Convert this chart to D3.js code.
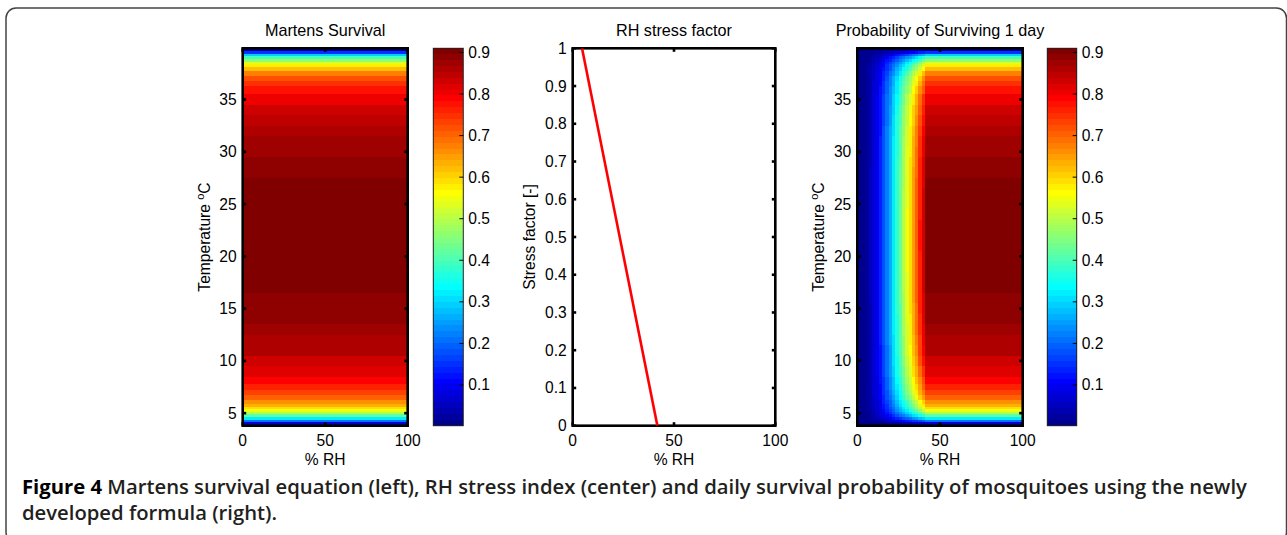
<!DOCTYPE html>
<html><head><meta charset="utf-8">
<script src="https://cdn.jsdelivr.net/npm/d3@7"></script>
<style>html,body{margin:0;padding:0;background:#fff;} svg{display:block}</style>
</head><body>
<svg id="chart" width="1287" height="535"></svg>
<script>
// ---------------- DATA ----------------
const temperatures = [3.8, 4.0, 4.25, 4.5, 4.75, 5.0, 5.25, 5.5, 5.75, 6, 6.5, 7, 7.5, 8, 9, 10, 11, 12, 13, 14, 15, 16, 17, 18, 19, 20, 21, 22, 23, 24, 25, 26, 27, 28, 29, 30, 31, 32, 33, 34, 35, 36, 36.5, 37, 37.5, 38, 38.25, 38.5, 38.75, 39, 39.25, 39.5, 39.75, 39.9];
const martensSurvival = [0.001, 0.062, 0.202, 0.324, 0.418, 0.490, 0.546, 0.590, 0.627, 0.657, 0.704, 0.739, 0.765, 0.786, 0.817, 0.839, 0.855, 0.867, 0.876, 0.883, 0.889, 0.894, 0.897, 0.900, 0.902, 0.903, 0.904, 0.904, 0.904, 0.903, 0.901, 0.899, 0.896, 0.892, 0.887, 0.881, 0.873, 0.863, 0.850, 0.833, 0.808, 0.773, 0.748, 0.717, 0.674, 0.615, 0.576, 0.528, 0.468, 0.389, 0.287, 0.156, 0.025, 0.0001];
const rhSamples = [0, 2, 4, 6, 8, 10, 12, 14, 16, 18, 20, 22, 24, 26, 28, 30, 32, 34, 36, 38, 40, 42, 100];
const rhSurvivalFactor = [0, 0.005, 0.015, 0.03, 0.05, 0.08, 0.11, 0.15, 0.2, 0.25, 0.3, 0.36, 0.42, 0.48, 0.54, 0.6, 0.66, 0.72, 0.78, 0.85, 0.92, 1, 1];
const stressRH = [4.6, 41.8];
const stressFactor = [1, 0];
const rhTicks = [0, 50, 100];
const temperatureTicks = [5, 10, 15, 20, 25, 30, 35];
const stressTicks = [0, 0.1, 0.2, 0.3, 0.4, 0.5, 0.6, 0.7, 0.8, 0.9, 1];
const colorTicks = [0.1, 0.2, 0.3, 0.4, 0.5, 0.6, 0.7, 0.8, 0.9];
const colorLimits = [0.002, 0.91];
const rhDomain = [0, 100];
const temperatureDomain = [3.8, 39.9];
const stressDomain = [0, 1];
const panelTitles = ["Martens Survival", "RH stress factor", "Probability of Surviving 1 day"];
const xLabel = "% RH";
const stressLabel = "Stress factor [-]";
const captionBold = "Figure 4";
const captionLine1 = " Martens survival equation (left), RH stress index (center) and daily survival probability of mosquitoes using the newly";
const captionLine2 = "developed formula (right).";

// ---------------- LAYOUT ----------------
const TOP = 48.3, BOTTOM = 425.7;
const P1 = [242.7, 407.7], CB1 = [433.3, 463.3];
const P2 = [572.7, 775.3];
const P3 = [857.3, 1022.7], CB2 = [1047.3, 1076.7];
const FONT = "'Liberation Sans', Arial, Helvetica, sans-serif";
const FS = 15.6, TITLE_FS = 16.2;
const TICKLEN = 3.5, AXW = 2.6;

const svg = d3.select("#chart");

// jet colormap (MATLAB jet(64))
function jetColors(m) {
  const n = Math.ceil(m / 4), u = [];
  for (let k = 1; k <= n; k++) u.push(k / n);
  for (let k = 1; k <= n - 1; k++) u.push(1);
  for (let k = n; k >= 1; k--) u.push(k / n);
  const gOff = Math.ceil(n / 2) - (m % 4 === 1 ? 1 : 0);
  const J = Array.from({length: m}, () => [0, 0, 0]);
  u.forEach((val, k) => {
    const gi = gOff + k, ri = gi + n, bi = gi - n;
    if (gi >= 0 && gi < m) J[gi][1] = val;
    if (ri >= 0 && ri < m) J[ri][0] = val;
    if (bi >= 0 && bi < m) J[bi][2] = val;
  });
  return J.map(c => d3.rgb(c[0] * 255, c[1] * 255, c[2] * 255).formatHex());
}
const jet = jetColors(64);
const color = d3.scaleQuantize().domain(colorLimits).range(jet);

function cellEdges(samples, domain) {
  return samples.map((s, i) => [
    i === 0 ? domain[0] : (samples[i - 1] + s) / 2,
    i === samples.length - 1 ? domain[1] : (s + samples[i + 1]) / 2
  ]);
}
const tEdges = cellEdges(temperatures, temperatureDomain);
const rhEdges = cellEdges(rhSamples, rhDomain);

const defs = svg.append("defs");
function clipFor(id, xr) {
  defs.append("clipPath").attr("id", id).append("rect")
    .attr("x", xr[0]).attr("y", TOP).attr("width", xr[1] - xr[0]).attr("height", BOTTOM - TOP);
  return "url(#" + id + ")";
}

function fmt(v) { return String(+v.toFixed(2)); }

function drawAxes(x, y, xTicks, yTicks, xr) {
  const g = svg.append("g");
  xTicks.forEach(t => {
    const px = x(t);
    g.append("line").attr("x1", px).attr("x2", px).attr("y1", BOTTOM).attr("y2", BOTTOM - TICKLEN);
    g.append("line").attr("x1", px).attr("x2", px).attr("y1", TOP).attr("y2", TOP + TICKLEN);
    g.append("text").attr("x", px).attr("y", BOTTOM + 20).attr("text-anchor", "middle").text(fmt(t));
  });
  yTicks.forEach(t => {
    const py = y(t);
    g.append("line").attr("x1", xr[0]).attr("x2", xr[0] + TICKLEN).attr("y1", py).attr("y2", py);
    g.append("line").attr("x1", xr[1]).attr("x2", xr[1] - TICKLEN).attr("y1", py).attr("y2", py);
    g.append("text").attr("x", xr[0] - 6).attr("y", py + 5.5).attr("text-anchor", "end").text(fmt(t));
  });
  g.selectAll("line").attr("stroke", "#000").attr("stroke-width", AXW);
  g.append("rect").attr("x", xr[0]).attr("y", TOP).attr("width", xr[1] - xr[0]).attr("height", BOTTOM - TOP)
    .attr("fill", "none").attr("stroke", "#000").attr("stroke-width", AXW);
  g.selectAll("text").attr("font-family", FONT).attr("font-size", FS).attr("fill", "#000");
  g.append("text").attr("x", (xr[0] + xr[1]) / 2).attr("y", BOTTOM + 39).attr("text-anchor", "middle")
    .attr("font-family", FONT).attr("font-size", FS).text(xLabel);
  return g;
}

function title(text, xr) {
  svg.append("text").attr("x", (xr[0] + xr[1]) / 2).attr("y", 36).attr("text-anchor", "middle")
    .attr("font-family", FONT).attr("font-size", TITLE_FS).attr("fill", "#000").text(text);
}

function tempLabel(xBase) {
  const t = svg.append("text").attr("transform", `translate(${xBase},${(TOP + BOTTOM) / 2}) rotate(-90)`)
    .attr("text-anchor", "middle").attr("font-family", FONT).attr("font-size", FS).attr("fill", "#000");
  t.append("tspan").text("Temperature ");
  t.append("tspan").attr("dy", -6).attr("font-size", 11).text("o");
  t.append("tspan").attr("dy", 6).text("C");
}

function colorbar(xr) {
  const y = d3.scaleLinear().domain(colorLimits).range([BOTTOM, TOP]);
  const step = (colorLimits[1] - colorLimits[0]) / jet.length;
  const g = svg.append("g");
  g.selectAll("rect.c").data(jet).join("rect").attr("class", "c")
    .attr("x", xr[0]).attr("width", xr[1] - xr[0])
    .attr("y", (d, i) => y(colorLimits[0] + (i + 1) * step))
    .attr("height", (d, i) => y(colorLimits[0] + i * step) - y(colorLimits[0] + (i + 1) * step))
    .attr("fill", d => d).attr("shape-rendering", "crispEdges");
  g.append("rect").attr("x", xr[0]).attr("y", TOP).attr("width", xr[1] - xr[0]).attr("height", BOTTOM - TOP)
    .attr("fill", "none").attr("stroke", "#222").attr("stroke-width", 1);
  colorTicks.forEach(t => {
    g.append("line").attr("x1", xr[1]).attr("x2", xr[1] - 4).attr("y1", y(t)).attr("y2", y(t))
      .attr("stroke", "#000").attr("stroke-width", 1);
    g.append("text").attr("x", xr[1] + 5).attr("y", y(t) + 5.5).attr("font-family", FONT).attr("font-size", FS)
      .attr("fill", "#000").text(fmt(t));
  });
}

// ---------- Panel 1: Martens survival ----------
const x1 = d3.scaleLinear().domain(rhDomain).range(P1);
const yT1 = d3.scaleLinear().domain(temperatureDomain).range([BOTTOM, TOP]);
svg.append("g").attr("clip-path", clipFor("c1", P1))
  .selectAll("rect").data(temperatures.map((t, i) => ({e: tEdges[i], v: martensSurvival[i]})))
  .join("rect").attr("x", x1(rhDomain[0])).attr("width", x1(rhDomain[1]) - x1(rhDomain[0]))
  .attr("y", d => yT1(d.e[1])).attr("height", d => yT1(d.e[0]) - yT1(d.e[1]))
  .attr("fill", d => color(d.v)).attr("shape-rendering", "crispEdges");
drawAxes(x1, yT1, rhTicks, temperatureTicks, P1);
title(panelTitles[0], P1);
tempLabel(210);
colorbar(CB1);

// ---------- Panel 2: RH stress factor ----------
const x2 = d3.scaleLinear().domain(rhDomain).range(P2);
const y2 = d3.scaleLinear().domain(stressDomain).range([BOTTOM, TOP]);
const lineData = stressRH.map((r, i) => [r, stressFactor[i]]);
drawAxes(x2, y2, rhTicks, stressTicks, P2);
svg.append("path").attr("clip-path", clipFor("c2", P2)).datum(lineData)
  .attr("d", d3.line().x(d => x2(d[0])).y(d => y2(d[1])))
  .attr("fill", "none").attr("stroke", "#ff0000").attr("stroke-width", 2.6);
title(panelTitles[1], P2);
svg.append("text").attr("transform", `translate(535,${(TOP + BOTTOM) / 2}) rotate(-90)`)
  .attr("text-anchor", "middle").attr("font-family", FONT).attr("font-size", FS).attr("fill", "#000").text(stressLabel);

// ---------- Panel 3: Probability of surviving 1 day ----------
const x3 = d3.scaleLinear().domain(rhDomain).range(P3);
const yT3 = d3.scaleLinear().domain(temperatureDomain).range([BOTTOM, TOP]);
const cells = [];
temperatures.forEach((t, i) => rhSamples.forEach((r, j) => {
  cells.push({te: tEdges[i], re: rhEdges[j], v: martensSurvival[i] * rhSurvivalFactor[j]});
}));
svg.append("g").attr("clip-path", clipFor("c3", P3))
  .selectAll("rect").data(cells).join("rect")
  .attr("x", d => x3(d.re[0])).attr("width", d => x3(d.re[1]) - x3(d.re[0]))
  .attr("y", d => yT3(d.te[1])).attr("height", d => yT3(d.te[0]) - yT3(d.te[1]))
  .attr("fill", d => color(d.v)).attr("shape-rendering", "crispEdges");
drawAxes(x3, yT3, rhTicks, temperatureTicks, P3);
title(panelTitles[2], P3);
tempLabel(824);
colorbar(CB2);

// ---------- Frame & caption ----------
svg.append("rect").attr("x", 6).attr("y", 8).attr("width", 1280.5).attr("height", 534).attr("rx", 10)
  .attr("fill", "none").attr("stroke", "#444").attr("stroke-width", 1.5);

const capFont = "'Open Sans', 'Noto Sans', sans-serif";
const cap1 = svg.append("text").attr("x", 22).attr("y", 494).attr("font-family", capFont).attr("font-size", 17).attr("fill", "#231f20");
cap1.append("tspan").attr("font-weight", 700).attr("fill", "#000").text(captionBold);
cap1.append("tspan").attr("font-weight", 600).text(captionLine1);
const w = cap1.node().getComputedTextLength();
const fs = 17 * 1226 / w;
cap1.attr("font-size", fs);
svg.append("text").attr("x", 22).attr("y", 520).attr("font-family", capFont).attr("font-size", fs)
  .attr("font-weight", 600).attr("fill", "#231f20").text(captionLine2);
</script>
</body></html>
